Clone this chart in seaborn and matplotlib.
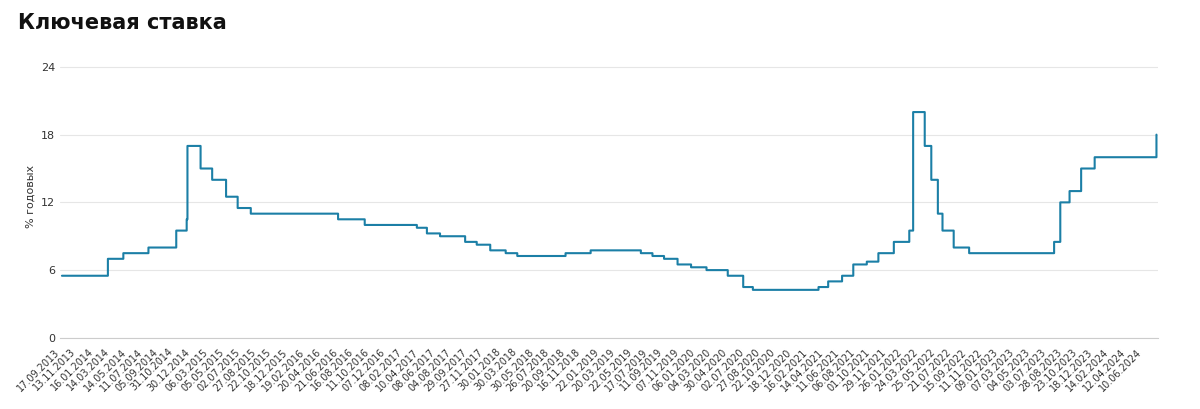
import pandas as pd
import matplotlib.pyplot as plt
import seaborn as sns

# Изменения ключевой ставки (дата решения, ставка %)
dates_change = ['13.09.2013', '03.03.2014', '28.04.2014', '28.07.2014', '05.11.2014', '12.12.2014',
                '16.12.2014', '02.02.2015', '16.03.2015', '05.05.2015', '16.06.2015', '03.08.2015',
                '14.06.2016', '19.09.2016', '27.03.2017', '02.05.2017', '19.06.2017', '18.09.2017',
                '30.10.2017', '18.12.2017', '12.02.2018', '26.03.2018', '17.09.2018', '17.12.2018',
                '17.06.2019', '29.07.2019', '09.09.2019', '28.10.2019', '16.12.2019', '10.02.2020',
                '27.04.2020', '22.06.2020', '27.07.2020', '22.03.2021', '26.04.2021', '15.06.2021',
                '26.07.2021', '13.09.2021', '25.10.2021', '20.12.2021', '14.02.2022', '28.02.2022',
                '11.04.2022', '04.05.2022', '27.05.2022', '14.06.2022', '25.07.2022', '19.09.2022',
                '24.07.2023', '15.08.2023', '18.09.2023', '30.10.2023', '18.12.2023', '29.07.2024']
rates = [5.5, 7.0, 7.5, 8.0, 9.5, 10.5,
         17.0, 15.0, 14.0, 12.5, 11.5, 11.0,
         10.5, 10.0, 9.75, 9.25, 9.0, 8.5,
         8.25, 7.75, 7.5, 7.25, 7.5, 7.75,
         7.5, 7.25, 7.0, 6.5, 6.25, 6.0,
         5.5, 4.5, 4.25, 4.5, 5.0, 5.5,
         6.5, 6.75, 7.5, 8.5, 9.5, 20.0,
         17.0, 14.0, 11.0, 9.5, 8.0, 7.5,
         8.5, 12.0, 13.0, 15.0, 16.0, 18.0]

tick_labels = ['17.09.2013', '13.11.2013', '16.01.2014', '14.03.2014', '14.05.2014', '11.07.2014',
               '05.09.2014', '31.10.2014', '30.12.2014', '06.03.2015', '05.05.2015', '02.07.2015',
               '27.08.2015', '22.10.2015', '18.12.2015', '19.02.2016', '20.04.2016', '21.06.2016',
               '16.08.2016', '11.10.2016', '07.12.2016', '08.02.2017', '10.04.2017', '08.06.2017',
               '04.08.2017', '29.09.2017', '27.11.2017', '30.01.2018', '30.03.2018', '30.05.2018',
               '26.07.2018', '20.09.2018', '16.11.2018', '22.01.2019', '20.03.2019', '22.05.2019',
               '17.07.2019', '11.09.2019', '07.11.2019', '06.01.2020', '04.03.2020', '30.04.2020',
               '02.07.2020', '27.08.2020', '22.10.2020', '18.12.2020', '16.02.2021', '14.04.2021',
               '11.06.2021', '06.08.2021', '01.10.2021', '29.11.2021', '26.01.2022', '24.03.2022',
               '25.05.2022', '21.07.2022', '15.09.2022', '11.11.2022', '09.01.2023', '07.03.2023',
               '04.05.2023', '03.07.2023', '28.08.2023', '23.10.2023', '18.12.2023', '14.02.2024',
               '12.04.2024', '10.06.2024']

# Ряд по рабочим дням
changes = pd.Series(rates, index=pd.to_datetime(dates_change, format='%d.%m.%Y'))
days = pd.bdate_range('2013-09-17', '2024-07-29')
serie = changes.reindex(changes.index.union(days)).ffill().reindex(days)
df = pd.DataFrame({'pos': range(len(days)), 'rate': serie.values})

sns.set_style('white')
fig, ax = plt.subplots(figsize=(12, 4.09), dpi=100)
sns.lineplot(data=df, x='pos', y='rate', ax=ax, color='#1b7fa6', linewidth=1.5,
             drawstyle='steps-post')

tick_pos = days.searchsorted(pd.to_datetime(tick_labels, format='%d.%m.%Y'))
ax.set_xticks(tick_pos)
ax.set_xticklabels(tick_labels, rotation=45, ha='right', fontsize=7, color='#333333')
ax.set_yticks([0, 6, 12, 18, 24])
ax.tick_params(axis='y', labelsize=8, colors='#333333', length=0)
ax.tick_params(axis='x', length=3, color='#cccccc')
ax.set_ylim(0, 25)
ax.set_xlim(-5, len(days) + 3)
ax.yaxis.grid(True, color='#e6e6e6', linewidth=0.8)
for s in ['top', 'right', 'left']:
    ax.spines[s].set_visible(False)
ax.spines['bottom'].set_color('#cccccc')
ax.set_xlabel('')
ax.set_ylabel('% годовых', fontsize=8, color='#333333')

fig.text(0.015, 0.93, 'Ключевая ставка', fontsize=15, fontweight='bold', color='#111111')
plt.subplots_adjust(left=0.05, right=0.965, top=0.864, bottom=0.174)
plt.savefig('out.png')
